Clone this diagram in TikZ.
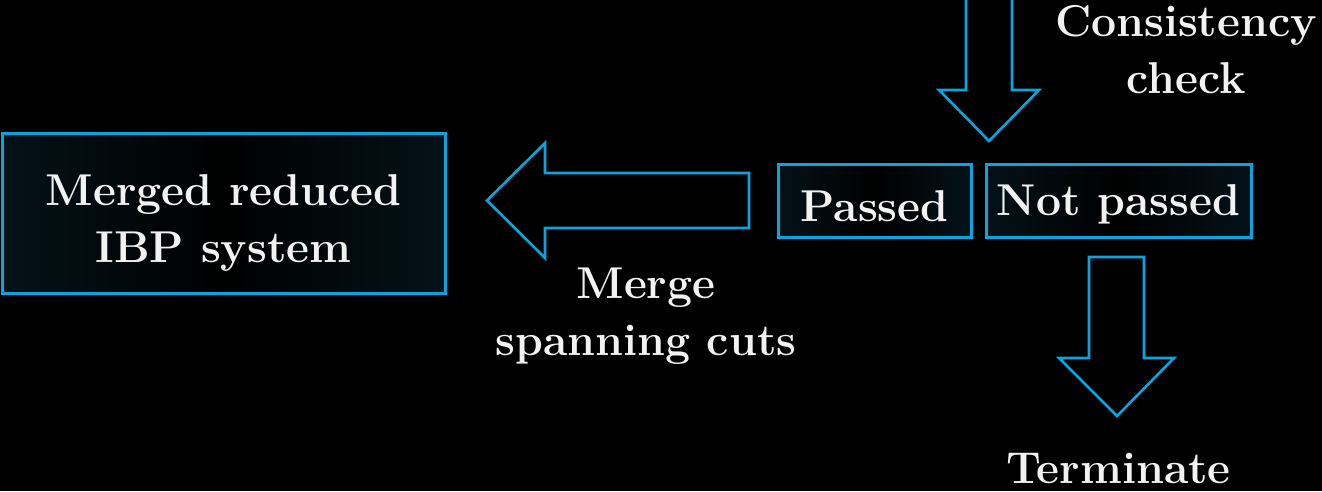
\documentclass[tikz,border=0pt]{standalone}
\usetikzlibrary{calc}
\definecolor{edge}{RGB}{10,165,224}
\definecolor{ink}{RGB}{242,242,242}
\definecolor{panel}{RGB}{4,18,25}
\begin{document}
\begin{tikzpicture}[x=1pt,y=-1pt,
  lbl/.style={text=ink, font=\fontsize{44.6}{57}\selectfont\bfseries, inner sep=0pt, align=center},
  panelbox/.style={draw=edge, line width=3pt, left color=panel, right color=panel,
    middle color=black, inner sep=0pt},
  blockarrow/.style={draw=edge, line width=2.6pt, line join=miter}]
  % page
  \fill[black] (0,0) rectangle (1322,491);
  \useasboundingbox (0,0) rectangle (1322,491);
  \clip (0,0) rectangle (1322,491);

  % boxes
  \node[panelbox, lbl, minimum width=443pt, minimum height=160pt,
    text height=98pt, text depth=0pt] (ibp) at (223.5,213)
    {Merged reduced\\IBP system};
  \node[panelbox, lbl, minimum width=193pt, minimum height=73pt,
    text height=41pt, text depth=0pt] (passed) at (874.5,200.5) {Passed};
  \node[panelbox, lbl, minimum width=265pt, minimum height=73pt,
    text height=29pt, text depth=0pt] (notpassed) at (1118.5,200.5) {Not passed};

  % free labels (base = baseline of the last line)
  \node[lbl, anchor=base] (check) at (1186,93) {Consistency\\check};
  \node[lbl, anchor=base] (merge) at (646,355) {Merge\\spanning cuts};
  \node[lbl, anchor=base] (term) at (1118.5,483) {Terminate};

  % block arrows
  \draw[blockarrow] (966,-10) -- (966,90) -- (939,90) -- (989,141)
    -- (1039,90) -- (1012,90) -- (1012,-10);
  \draw[blockarrow] (749,173) -- (545,173) -- (545,143) -- (487,200.5)
    -- (545,258) -- (545,228) -- (749,228) -- cycle;
  \draw[blockarrow] (1089,257) -- (1089,358) -- (1059,358) -- (1117,416)
    -- (1174,358) -- (1144,358) -- (1144,257) -- cycle;
\end{tikzpicture}
\end{document}
